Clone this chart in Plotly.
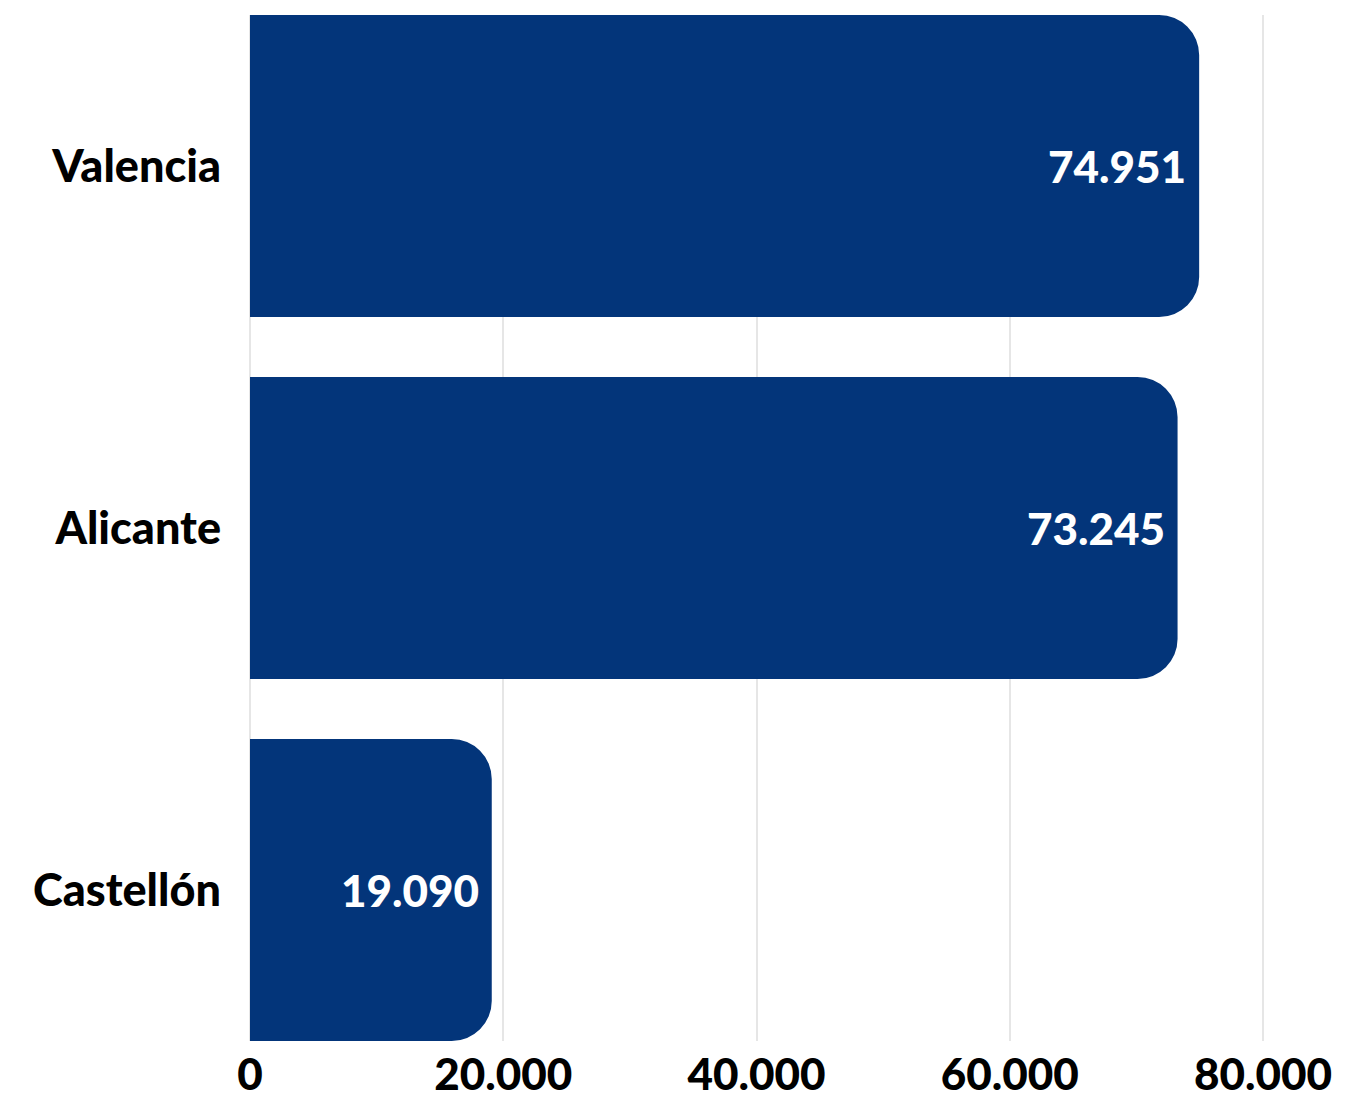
import plotly.graph_objects as go

categories = ["Valencia", "Alicante", "Castellón"]
values = [74951, 73245, 19090]
value_labels = ["74.951", "73.245", "19.090"]
tick_vals = [0, 20000, 40000, 60000, 80000]
tick_text = ["0", "20.000", "40.000", "60.000", "80.000"]

BAR = "#03357A"
FONT = "Lato"

fig = go.Figure(go.Bar(
    y=categories, x=values, orientation="h",
    marker=dict(color=BAR, cornerradius=40, line=dict(width=0)),
    textposition="none", hoverinfo="x+y",
))

for cat, v, lab in zip(categories, values, value_labels):
    fig.add_annotation(
        x=v, y=cat, xref="x", yref="y", text=lab, showarrow=False,
        xanchor="right", yanchor="middle", xshift=-11,
        font=dict(family=FONT, size=44, color="white", weight=900),
    )

fig.update_layout(
    width=1341, height=1093,
    margin=dict(l=242, r=84, t=7, b=60, autoexpand=False),
    paper_bgcolor="white", plot_bgcolor="white",
    bargap=0.166, showlegend=False,
    font=dict(family=FONT, color="black"),
    xaxis=dict(range=[0, 80150], tickvals=tick_vals, ticktext=tick_text,
               automargin=False,
               showgrid=True, gridcolor="#E6E6E6", gridwidth=2,
               zeroline=True, zerolinecolor="#E6E6E6", zerolinewidth=2,
               showline=False, ticks="", ticklabelstandoff=4,
               tickfont=dict(family=FONT, size=44, color="black", weight=900)),
    yaxis=dict(categoryorder="array", categoryarray=categories,
               autorange=False, range=[2.417, -0.417], automargin=False,
               showgrid=False, zeroline=False, showline=False, ticks="",
               ticklabelstandoff=28,
               tickfont=dict(family=FONT, size=45, color="black", weight=900)),
)

fig.write_html("out.html")
